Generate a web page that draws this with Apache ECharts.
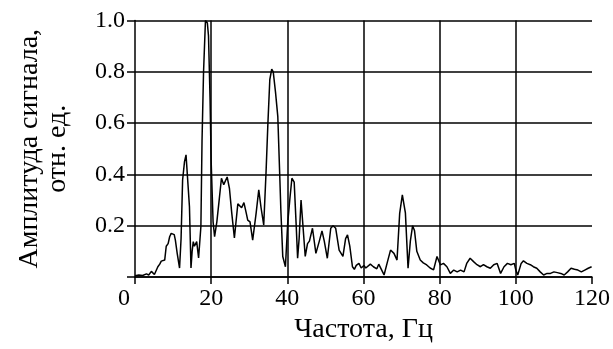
<!DOCTYPE html>
<html>
<head>
<meta charset="utf-8">
<script src="https://cdn.jsdelivr.net/npm/echarts@6/dist/echarts.min.js"></script>
<style>
  html, body { margin: 0; padding: 0; background: #fff; }
  #chart { width: 613px; height: 349px; }
</style>
</head>
<body>
<div id="chart"></div>
<script>
// частота, Гц
const freq = [
  0, 1, 2, 3, 3.6, 4.3, 5.1, 6.0, 6.5, 6.9, 7.4, 7.8, 8.2, 8.7, 9.1, 9.5, 9.9, 10.3, 10.6, 11.1,
  11.7, 12.1, 12.5, 13.0, 13.4, 13.8, 14.3, 14.7, 15.0, 15.3, 15.6, 16.2, 16.7, 17.3, 17.6, 18.0,
  18.5, 19.0, 19.3, 19.7, 20.0, 20.5, 20.9, 21.5, 22.1, 22.7, 23.3, 24.2, 24.8, 25.4, 26.1, 27.0,
  27.5, 28.0, 28.6, 29.2, 29.6, 30.2, 30.9, 31.8, 32.5, 33.1, 33.8, 34.4, 34.9, 35.4, 35.9, 36.3,
  36.9, 37.5, 38.0, 38.3, 38.8, 39.5, 40.1, 40.7, 41.2, 41.8, 42.3, 42.7, 43.1, 43.6, 44.1, 44.7,
  45.3, 45.8, 46.6, 47.5, 48.4, 49.1, 49.7, 50.5, 51.4, 52.0, 52.7, 53.6, 54.6, 55.3, 55.8, 56.4,
  57.1, 57.6, 58.1, 58.8, 59.4, 60.1, 60.6, 61.0, 61.8, 62.6, 63.5, 64.0, 65.4, 66.3, 67.1, 68.0,
  68.8, 69.5, 70.2, 70.6, 71.0, 71.7, 72.3, 72.9, 73.4, 74.0, 74.9, 75.7, 76.6, 77.5, 78.4, 79.3,
  80.2, 81.0, 81.9, 82.8, 83.7, 84.6, 85.5, 86.4, 87.1, 88.0, 88.9, 89.8, 90.7, 91.5, 92.4, 93.3,
  94.2, 95.1, 96.0, 96.9, 97.8, 98.7, 99.6, 100.0, 100.5, 101.4, 102.0, 102.9, 103.8, 104.6, 105.5,
  106.4, 107.3, 108.2, 109.1, 110.0, 110.9, 111.8, 112.7, 113.6, 114.5, 115.4, 116.3, 117.2, 118.1,
  119.0, 119.9
];

// амплитуда, отн. ед.
const amp = [
  0.005, 0.008, 0.006, 0.012, 0.008, 0.022, 0.01, 0.04, 0.05, 0.062, 0.055, 0.066, 0.12, 0.13, 0.157, 0.17, 0.177, 0.165, 0.144, 0.09,
  0.035, 0.15, 0.378, 0.45, 0.476, 0.47, 0.274, 0.035, 0.1, 0.138, 0.12, 0.138, 0.074, 0.196, 0.53, 0.8,
  1.0, 0.99, 0.94, 0.7, 0.45, 0.216, 0.157, 0.216, 0.3, 0.385, 0.36, 0.39, 0.345, 0.25, 0.152, 0.285,
  0.29, 0.27, 0.29, 0.25, 0.222, 0.215, 0.144, 0.248, 0.34, 0.27, 0.203, 0.405, 0.6, 0.77, 0.81, 0.8,
  0.72, 0.625, 0.4, 0.26, 0.08, 0.04, 0.21, 0.31, 0.385, 0.37, 0.21, 0.073, 0.15, 0.3, 0.2, 0.08,
  0.13, 0.14, 0.19, 0.092, 0.14, 0.18, 0.14, 0.073, 0.19, 0.2, 0.19, 0.105, 0.08, 0.15, 0.164, 0.12,
  0.04, 0.03, 0.045, 0.053, 0.035, 0.045, 0.035, 0.04, 0.05, 0.04, 0.032, 0.05, 0.008, 0.06, 0.105, 0.092,
  0.066, 0.248, 0.32, 0.32, 0.25, 0.034, 0.14, 0.2, 0.18, 0.1, 0.066, 0.055, 0.047, 0.035, 0.028, 0.08,
  0.047, 0.053, 0.04, 0.014, 0.027, 0.02, 0.027, 0.02, 0.053, 0.073, 0.06, 0.048, 0.04, 0.048, 0.04, 0.034,
  0.048, 0.053, 0.014, 0.04, 0.053, 0.048, 0.053, 0.027, 0.008, 0.053, 0.063, 0.053, 0.048, 0.04, 0.034,
  0.02, 0.008, 0.014, 0.014, 0.02, 0.017, 0.014, 0.008, 0.02, 0.034, 0.03, 0.027, 0.02, 0.027,
  0.034, 0.04
];

const xTicks = [0, 20, 40, 60, 80, 100, 120];
const yTicks = [0, 0.2, 0.4, 0.6, 0.8, 1.0];

const chart = echarts.init(document.getElementById('chart'), null, { renderer: 'canvas' });

const font = 'Liberation Serif';

const option = {
  backgroundColor: '#fff',
  animation: false,
  grid: { left: 135, right: 19, top: 20.5, bottom: 72 },
  xAxis: {
    type: 'value',
    min: xTicks[0],
    max: xTicks[xTicks.length - 1],
    interval: 20,
    name: 'Частота, Гц',
    nameLocation: 'middle',
    nameGap: 38,
    nameTextStyle: { fontFamily: font, fontSize: 28, color: '#000' },
    axisLine: { show: true, lineStyle: { color: '#000', width: 1.5 } },
    axisTick: { show: true, length: 7, lineStyle: { color: '#000', width: 1.5 } },
    // в v6 margin считается от оси, а не от конца засечки
    axisLabel: {
      fontFamily: font, fontSize: 24, color: '#000', margin: 10,
      formatter: v => v === 0 ? '{z|0}' : String(v),
      rich: { z: { fontFamily: font, fontSize: 24, color: '#000', padding: [0, 22, 0, 0] } }
    },
    splitLine: { show: true, showMinLine: false, showMaxLine: false, lineStyle: { color: '#000', width: 1.5 } }
  },
  yAxis: {
    type: 'value',
    min: yTicks[0],
    max: yTicks[yTicks.length - 1],
    interval: 0.2,
    name: 'Амплитуда сигнала,\nотн. ед.',
    nameLocation: 'middle',
    nameRotate: 90,
    nameGap: 63,
    nameTextStyle: { fontFamily: font, fontSize: 28, color: '#000', lineHeight: 28 },
    axisLine: { show: true, lineStyle: { color: '#000', width: 1.5 } },
    axisTick: { show: true, length: 8, lineStyle: { color: '#000', width: 1.5 } },
    axisLabel: {
      fontFamily: font, fontSize: 24, color: '#000', margin: 10,
      formatter: v => v === 0 ? '' : v.toFixed(1)
    },
    splitLine: { show: true, lineStyle: { color: '#000', width: 1.5 } }
  },
  series: [
    {
      type: 'line',
      data: freq.map((f, i) => [f, amp[i]]),
      showSymbol: false,
      lineStyle: { color: '#000', width: 1.5 }
    }
  ]
};

chart.setOption(option);
</script>
</body>
</html>
